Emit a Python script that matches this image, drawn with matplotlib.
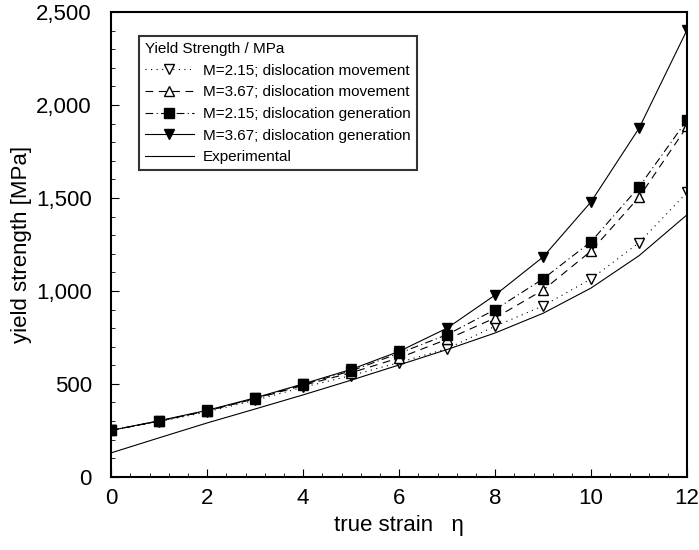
import matplotlib.pyplot as plt
from matplotlib.ticker import MultipleLocator, FuncFormatter

plt.rcParams['font.family'] = ['Liberation Sans', 'DejaVu Sans']

strain = [0, 1, 2, 3, 4, 5, 6, 7, 8, 9, 10, 11, 12]
m215_move = [250, 297, 350, 412, 482, 545, 615, 690, 810, 920, 1065, 1260, 1530]
m367_move = [250, 300, 355, 420, 492, 560, 640, 740, 855, 1005, 1215, 1505, 1885]
m215_gen = [250, 300, 355, 422, 497, 570, 665, 765, 900, 1065, 1265, 1560, 1920]
m367_gen = [250, 302, 358, 425, 500, 578, 675, 800, 978, 1183, 1480, 1876, 2405]
experimental = [129, 210, 290, 365, 441, 520, 602, 685, 774, 880, 1016, 1190, 1410]

labels = ['M=2.15; dislocation movement', 'M=3.67; dislocation movement',
          'M=2.15; dislocation generation', 'M=3.67; dislocation generation',
          'Experimental']

fig = plt.figure(figsize=(6.99, 5.5), dpi=100)
ax = fig.add_axes([0.159, 0.133, 0.824, 0.845])

ax.plot(strain, m215_move, linestyle=(0, (1, 4)), color='black', lw=0.8,
        marker='v', markerfacecolor='white', markeredgecolor='black', ms=7, label=labels[0])
ax.plot(strain, m367_move, linestyle=(0, (7, 5)), color='black', lw=0.8,
        marker='^', markerfacecolor='white', markeredgecolor='black', ms=7, label=labels[1])
ax.plot(strain, m215_gen, linestyle=(0, (7, 3, 1, 3)), color='black', lw=0.8,
        marker='s', markerfacecolor='black', ms=7, label=labels[2])
ax.plot(strain, m367_gen, linestyle='-', color='black', lw=0.8,
        marker='v', markerfacecolor='black', ms=7, label=labels[3])
ax.plot(strain, experimental, linestyle='-', color='black', lw=0.8, label=labels[4])

ax.set_xlim(0, 12)
ax.set_ylim(0, 2500)
ax.xaxis.set_major_locator(MultipleLocator(2))
ax.xaxis.set_minor_locator(MultipleLocator(0.4))
ax.yaxis.set_major_locator(MultipleLocator(500))
ax.yaxis.set_minor_locator(MultipleLocator(100))
ax.yaxis.set_major_formatter(FuncFormatter(lambda v, p: f'{int(v):,}'))
ax.tick_params(which='both', direction='in', top=False, right=False)
ax.tick_params(which='major', length=6, labelsize=16)
ax.tick_params(axis='y', which='major', pad=14)
ax.tick_params(axis='x', which='major', pad=8)
ax.tick_params(which='minor', length=3)
for s in ax.spines.values():
    s.set_linewidth(1.5)

ax.set_xlabel('true strain   η', fontsize=16, labelpad=4)
ax.set_ylabel('yield strength [MPa]', fontsize=16, labelpad=3)

leg = ax.legend(title='Yield Strength / MPa', loc='upper left', bbox_to_anchor=(0.035, 0.965),
                fontsize=11, title_fontsize=11, frameon=True, fancybox=False,
                handlelength=3.2, borderpad=0.4, labelspacing=0.5, handletextpad=0.6)
leg._legend_box.align = 'left'
leg.get_frame().set_edgecolor('black')
leg.get_frame().set_linewidth(1.5)

fig.savefig('out.png', dpi=100)
